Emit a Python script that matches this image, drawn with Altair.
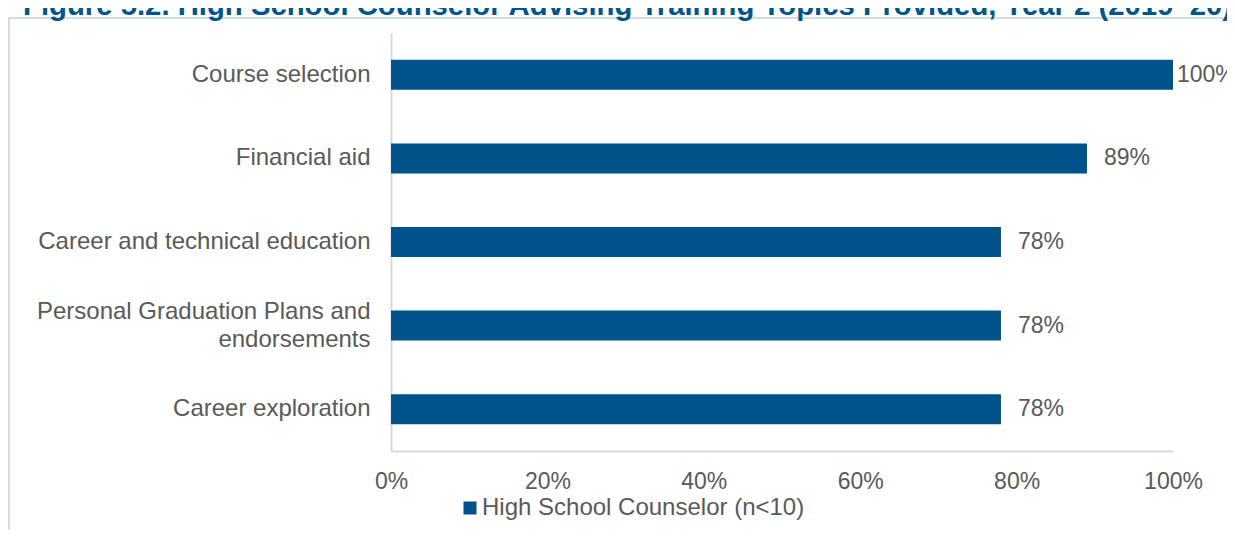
import altair as alt
import pandas as pd

title_text = "Figure 5.2. High School Counselor Advising Training Topics Provided, Year 2 (2019\u201320)"
categories = [
    "Course selection",
    "Financial aid",
    "Career and technical education",
    "Personal Graduation Plans and endorsements",
    "Career exploration",
]
values = [100, 89, 78, 78, 78]
series_name = "High School Counselor (n<10)"
x_ticks = [0, 20, 40, 60, 80, 100]

df = pd.DataFrame({"topic": categories, "pct": values, "series": [series_name] * len(categories)})

FONT = "Liberation Sans"
BLUE = "#00538A"
GREY_TXT = "#595959"
AXIS_GREY = "#D9D9D9"

W, H = 782, 418
L, T = 383, 25
TOTAL_W, TOTAL_H = 1219, 522

long_label = "Personal Graduation Plans and endorsements"
label_expr = (
    f"datum.label == '{long_label}' ? "
    "['Personal Graduation Plans and', 'endorsements'] : datum.label"
)

x_enc = alt.X(
    "pct:Q",
    scale=alt.Scale(domain=[0, 100], nice=False, zero=True),
    axis=alt.Axis(
        values=x_ticks,
        labelExpr="datum.value + '%'",
        title=None,
        grid=False,
        ticks=False,
        domain=True,
        domainColor=AXIS_GREY,
        domainWidth=2,
        labelFont=FONT,
        labelFontSize=23,
        labelColor=GREY_TXT,
        labelPadding=19,
        labelFlush=False,
    ),
)
y_enc = alt.Y(
    "topic:N",
    sort=categories,
    scale=alt.Scale(paddingInner=0.64, paddingOuter=0.32),
    axis=alt.Axis(
        title=None,
        ticks=False,
        domain=True,
        domainColor=AXIS_GREY,
        domainWidth=2,
        labelFont=FONT,
        labelFontSize=24,
        labelColor=GREY_TXT,
        labelPadding=21,
        labelLimit=500,
        labelExpr=label_expr,
        labelLineHeight=28,
        labelOffset={"condition": {"test": f"datum.value == '{long_label}'", "value": -14}, "value": 0},
    ),
)

bars = alt.Chart(df).mark_bar(size=30).encode(
    x=x_enc,
    y=y_enc,
    color=alt.Color(
        "series:N",
        scale=alt.Scale(range=[BLUE]),
        legend=alt.Legend(
            title=None,
            orient="none",
            legendX=67,
            legendY=463,
            padding=0,
            symbolType="square",
            symbolSize=169,
            symbolStrokeWidth=0,
            labelFont=FONT,
            labelFontSize=24,
            labelColor=GREY_TXT,
            labelOffset=0,
            labelLimit=600,
        ),
    ),
)

base_txt = alt.Chart(df).transform_calculate(lbl="datum.pct + '%'")
labels_main = base_txt.transform_filter("datum.pct < 100").mark_text(
    align="left", baseline="middle", dx=17, font=FONT, fontSize=23, color=GREY_TXT
).encode(x="pct:Q", y=alt.Y("topic:N", sort=categories), text="lbl:N")
labels_full = base_txt.transform_filter("datum.pct >= 100").mark_text(
    align="left", baseline="middle", dx=4, font=FONT, fontSize=23, color=GREY_TXT
).encode(x="pct:Q", y=alt.Y("topic:N", sort=categories), text="lbl:N")

frame = alt.Chart(pd.DataFrame({"f": [0]})).mark_rect(
    fillOpacity=0, stroke="#D6DDE1", strokeWidth=2
).encode(
    x=alt.value(-382), x2=alt.value(1000), y=alt.value(-15), y2=alt.value(700)
)

title = alt.Chart(pd.DataFrame({"t": [title_text]})).mark_text(
    align="left", baseline="alphabetic", font=FONT, fontSize=29.3, fontWeight="bold", color="#00558C"
).encode(text="t:N", x=alt.value(-368), y=alt.value(-18))

chart = alt.layer(frame, bars, labels_main, labels_full, title).properties(
    width=W,
    height=H,
    autosize=alt.AutoSizeParams(type="none"),
    padding={"left": L, "top": T, "right": TOTAL_W - L - W, "bottom": TOTAL_H - T - H},
).configure_view(stroke=None)

chart.save("out.html", embed_options={"renderer": "svg", "actions": False})
